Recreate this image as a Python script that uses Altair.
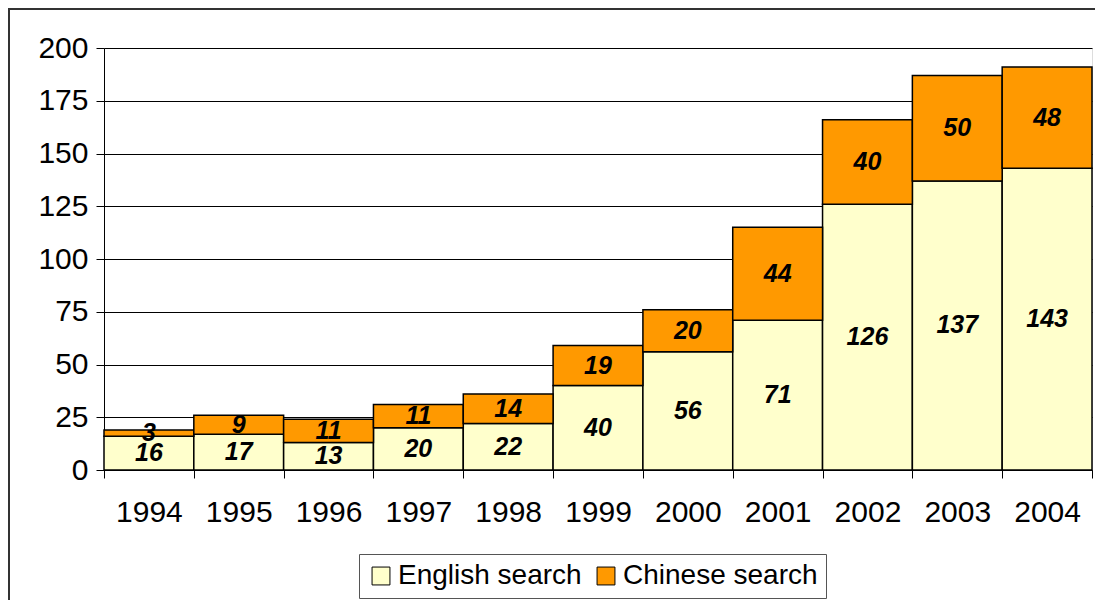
import altair as alt
import pandas as pd

years = ["1994", "1995", "1996", "1997", "1998", "1999", "2000", "2001", "2002", "2003", "2004"]
english = [16, 17, 13, 20, 22, 40, 56, 71, 126, 137, 143]
chinese = [3, 9, 11, 11, 14, 19, 20, 44, 40, 50, 48]
series = ["English search", "Chinese search"]
colors = ["#FFFFCC", "#FF9900"]
y_ticks = [0, 25, 50, 75, 100, 125, 150, 175, 200]

rows = []
for i, yr in enumerate(years):
    e, c = english[i], chinese[i]
    rows.append({"year": yr, "series": series[0], "value": e, "lo": 0, "hi": e, "mid": e / 2, "ord": 0})
    rows.append({"year": yr, "series": series[1], "value": c, "lo": e, "hi": e + c, "mid": e + c / 2, "ord": 1})
df = pd.DataFrame(rows)

W, H = 988, 422
FONT = "Liberation Sans"

xenc = alt.X(
    "year:N",
    sort=years,
    title=None,
    scale=alt.Scale(paddingInner=0, paddingOuter=0),
    axis=alt.Axis(
        labelAngle=0, labelFontSize=30, labelFont=FONT, labelColor="black",
        tickBand="extent", tickSize=8, tickColor="black", domainColor="black",
        labelPadding=19, grid=False,
    ),
)
yscale = alt.Scale(domain=[0, 200], nice=False)

bars = alt.Chart(df).mark_bar(stroke="black", strokeWidth=1.5).encode(
    x=xenc,
    y=alt.Y(
        "lo:Q", scale=yscale, title=None,
        axis=alt.Axis(
            values=y_ticks, labelFontSize=30, labelFont=FONT, labelColor="black",
            tickSize=8, tickColor="black", domainColor="black",
            gridColor="black", gridWidth=1, labelPadding=8,
        ),
    ),
    y2="hi:Q",
    color=alt.Color(
        "series:N",
        scale=alt.Scale(domain=series, range=colors),
        sort=series,
        legend=alt.Legend(
            title=None, orient="none", direction="horizontal",
            legendX=255, legendY=506,
            symbolType="square", symbolSize=320, symbolStrokeColor="black",
            symbolStrokeWidth=1, labelFontSize=28, labelFont=FONT, labelColor="black",
            labelLimit=0, strokeColor="#555555", padding=8, columnPadding=10,
            symbolOffset=0, labelOffset=3, fillColor="white",
        ),
    ),
    order=alt.Order("ord:Q"),
)

labels = alt.Chart(df).mark_text(
    font=FONT, fontSize=25, fontWeight="bold", fontStyle="italic", color="black",
).encode(
    x=alt.X("year:N", sort=years),
    y=alt.Y("mid:Q", scale=yscale),
    text="value:Q",
)

frame = alt.Chart(df).mark_rect(fillOpacity=0, stroke="#333333", strokeWidth=2).encode(
    x=alt.value(-95), x2=alt.value(1300), y=alt.value(-39), y2=alt.value(900),
)

chart = alt.layer(frame, bars, labels).properties(
    width=W, height=H,
    padding={"left": 96, "top": 40, "right": 3, "bottom": 130},
    autosize=alt.AutoSizeParams(type="none"),
).configure_view(
    fill="#C0C0C0", stroke="#808080", strokeWidth=2,
).configure(background="white")

chart.save("out.html", embed_options={"renderer": "svg", "actions": False})
